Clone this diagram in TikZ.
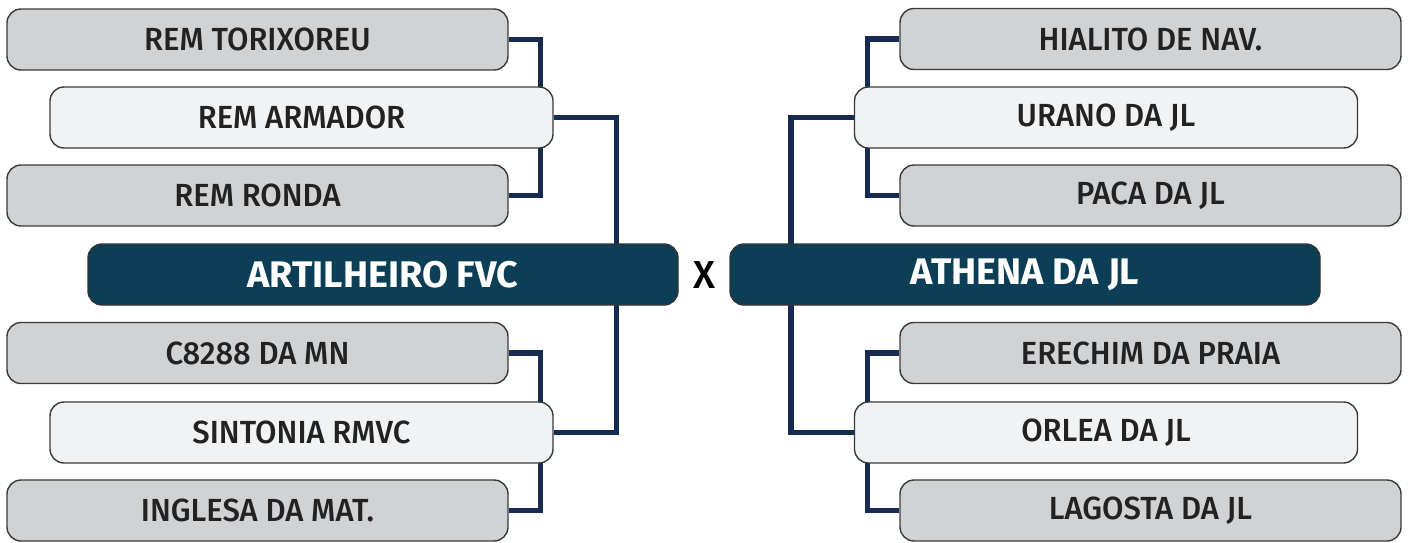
\documentclass[tikz,border=0pt]{standalone}
\usepackage{fontspec}
\setmainfont{Fira Sans}
\newfontfamily\lblfont{Fira Sans Medium}[FakeStretch=0.97]
\newfontfamily\xfont{Fira Sans Medium}
\newfontfamily\hdfont{Fira Sans}[FakeStretch=1.02]
\definecolor{grayfill}{HTML}{D1D2D4}
\definecolor{lightfill}{HTML}{F1F2F3}
\definecolor{teamfill}{HTML}{0C3F55}
\definecolor{linecol}{HTML}{172A50}
\definecolor{edgecol}{HTML}{3A3A3A}
\definecolor{txtcol}{HTML}{222222}
\pgfdeclarelayer{bg}
\pgfsetlayers{bg,main}
\tikzset{
  boxbase/.style={rectangle, rounded corners=14pt, draw=edgecol, line width=1.4pt,
    minimum height=61pt, inner sep=0pt, text=txtcol, font=\lblfont\fontsize{32}{34}\selectfont},
  graybox/.style={boxbase, fill=grayfill, minimum width=501pt},
  lightbox/.style={boxbase, fill=lightfill, minimum width=503pt},
  teambox/.style={boxbase, fill=teamfill, draw=black!80, minimum width=590pt, text=white,
    font=\hdfont\bfseries\fontsize{37}{40}\selectfont},
  link/.style={draw=linecol, line width=5.5pt}
}
\begin{document}
\begin{tikzpicture}[x=1pt,y=-1pt]
\useasboundingbox (0,0) rectangle (1410,543);
% left
\node[graybox]  (l1) at (257.5,39.5) {REM TORIXOREU};
\node[lightbox] (l2) at (301.5,117.5) {REM ARMADOR};
\node[graybox]  (l3) at (257.5,195.5) {REM RONDA};
\node[teambox]  (lt) at (383,274.5) {ARTILHEIRO FVC};
\node[graybox]  (l4) at (257.5,353) {C8288 DA MN};
\node[lightbox] (l5) at (301.5,432.5) {SINTONIA RMVC};
\node[graybox]  (l6) at (257.5,510.5) {INGLESA DA MAT.};
% right
\node[graybox]  (r1) at (1150.5,39) {HIALITO DE NAV.};
\node[lightbox] (r2) at (1106,117.5) {URANO DA JL};
\node[graybox]  (r3) at (1150.5,195.5) {PACA DA JL};
\node[teambox]  (rt) at (1025,274.5) {ATHENA DA JL};
\node[graybox]  (r4) at (1150.5,353) {ERECHIM DA PRAIA};
\node[lightbox] (r5) at (1106,432.5) {ORLEA DA JL};
\node[graybox]  (r6) at (1150.5,510.5) {LAGOSTA DA JL};
\node[text=black, inner sep=0pt, anchor=base, font=\xfont\fontsize{39}{40}\selectfont] (vs) at (704.5,288) {X};
\begin{pgfonlayer}{bg}
\draw[link] (l1.east) -- ++(32,0) |- (l3.east);
\draw[link] (l2.east) -- ++(63,0) |- (l5.east);
\draw[link] (l4.east) -- ++(32,0) |- (l6.east);
\draw[link] (r1.west) -- ++(-32,0) |- (r3.west);
\draw[link] (r2.west) -- ++(-63,0) |- (r5.west);
\draw[link] (r4.west) -- ++(-32,0) |- (r6.west);
\end{pgfonlayer}
\end{tikzpicture}
\end{document}
